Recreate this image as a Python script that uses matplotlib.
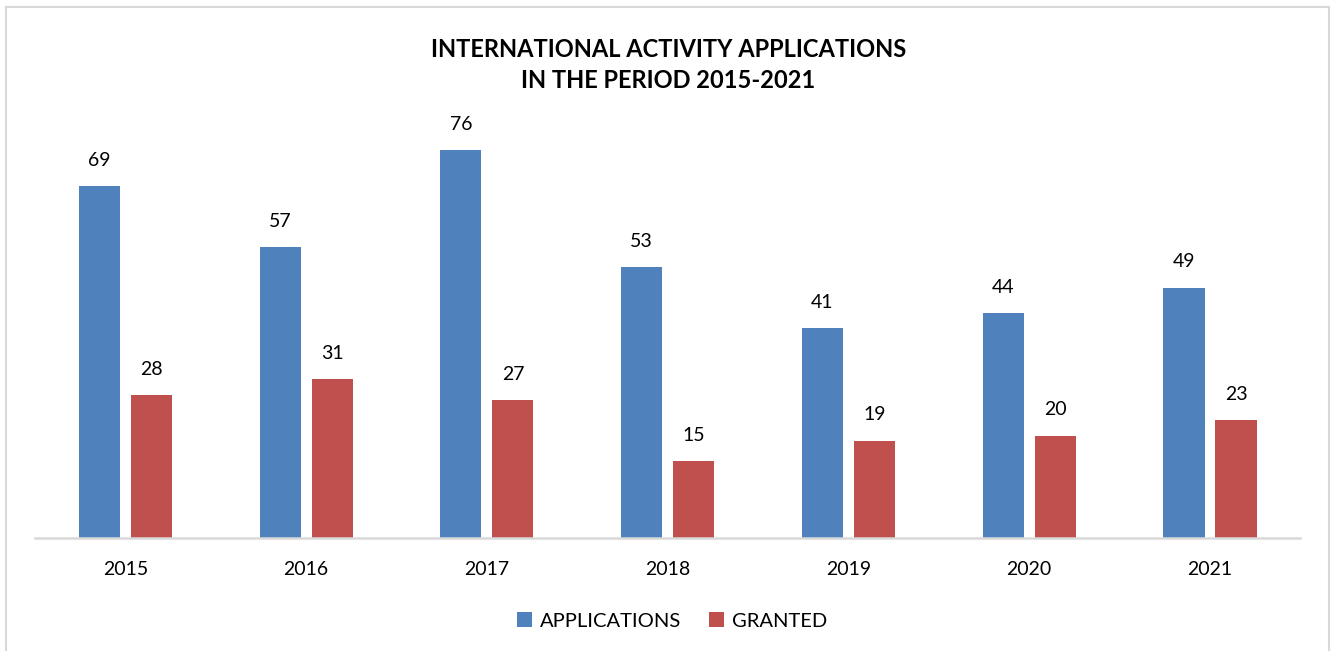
import numpy as np
import matplotlib.pyplot as plt
from matplotlib.lines import Line2D

plt.rcParams['font.family'] = ['Lato', 'DejaVu Sans']

years = ['2015', '2016', '2017', '2018', '2019', '2020', '2021']
applications = [69, 57, 76, 53, 41, 44, 49]
granted = [28, 31, 27, 15, 19, 20, 23]

blue = '#4F81BD'
red = '#C0504D'

fig = plt.figure(figsize=(13.31, 6.51), dpi=100)
ax = fig.add_axes([0.0263, 0.1743, 0.9507, 0.6266])

x = np.arange(len(years))
w = 0.227
off = 0.1438
b1 = ax.bar(x - off, applications, w, color=blue, label='APPLICATIONS')
b2 = ax.bar(x + off, granted, w, color=red, label='GRANTED')

for bars, vals in [(b1, applications), (b2, granted)]:
    for r, v in zip(bars, vals):
        ax.annotate(str(v), (r.get_x() + r.get_width() / 2, v),
                    xytext=(0, 18.5), textcoords='offset points',
                    ha='center', va='center', fontsize=14, color='black')

ax.set_xlim(-0.5, len(years) - 0.5)
ax.set_ylim(0, 80)
ax.set_xticks(x)
ax.set_xticklabels(years, fontsize=14)
ax.tick_params(axis='x', length=0, pad=17)
ax.set_yticks([])
for s in ['top', 'left', 'right']:
    ax.spines[s].set_visible(False)
ax.spines['bottom'].set_color('#D9D9D9')
ax.spines['bottom'].set_linewidth(1.8)

fig.text(0.502, 0.9, 'INTERNATIONAL ACTIVITY APPLICATIONS\nIN THE PERIOD 2015-2021',
         ha='center', va='center', fontsize=17, fontweight='bold', linespacing=1.4)

fig.legend(loc='center', bbox_to_anchor=(0.505, 0.046), ncol=2, frameon=False,
           fontsize=14.5, handlelength=0.72, handleheight=0.72, handletextpad=0.4,
           columnspacing=1.4)

# light frame around the chart area
frame = '#D9D9D9'
fig.add_artist(Line2D([0.0045, 0.0045], [0, 0.9892], color=frame, lw=1.5))
fig.add_artist(Line2D([0.0045, 0.9985], [0.9892, 0.9892], color=frame, lw=1.5))
fig.add_artist(Line2D([0.9985, 0.9985], [0, 0.9892], color=frame, lw=1.5))

fig.savefig('out.png', dpi=100)
